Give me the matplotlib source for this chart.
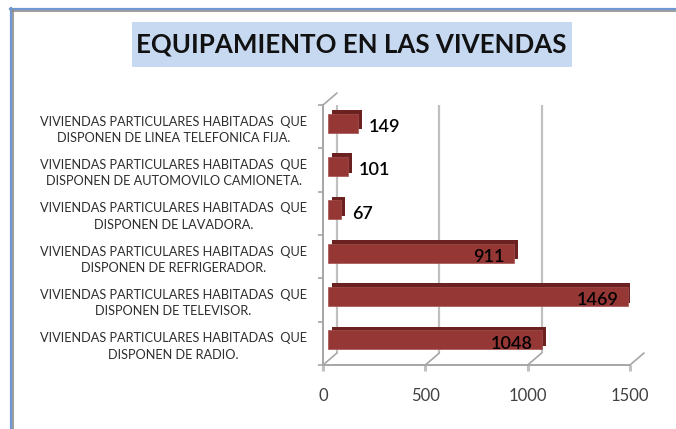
import matplotlib

matplotlib.use("Agg")
import matplotlib.pyplot as plt
import matplotlib.transforms as mtransforms
from matplotlib.lines import Line2D
from matplotlib.patches import Rectangle
import numpy as np

plt.rcParams["font.family"] = ["Lato", "DejaVu Sans"]

TITLE = "EQUIPAMIENTO EN LAS VIVENDAS"
LINE1 = "VIVIENDAS PARTICULARES HABITADAS  QUE"
# top to bottom, as in the picture
items = [
    "DISPONEN DE LINEA TELEFONICA FIJA.",
    "DISPONEN DE AUTOMOVILO CAMIONETA.",
    "DISPONEN DE LAVADORA.",
    "DISPONEN DE REFRIGERADOR.",
    "DISPONEN DE TELEVISOR.",
    "DISPONEN DE RADIO.",
]
values = [149, 101, 67, 911, 1469, 1048]
xticks = [0, 500, 1000, 1500]

W, H, DPI = 676, 429, 100
PX = 72 / DPI  # points per pixel

FRONT = "#953735"
SIDE = "#6a2120"
GRID = "#c0c0c0"
WALL = "#a6a6a6"

fig = plt.figure(figsize=(W / DPI, H / DPI), dpi=DPI)
fig.patch.set_facecolor("white")

# chart frame (top + left edge only, like the cropped screenshot)
fig.add_artist(Line2D([10.5 / W, 10.5 / W], [0, 1 - 8 / H], color="#6f97d3", lw=1.6))
fig.add_artist(Line2D([10 / W, 1], [1 - 8.5 / H, 1 - 8.5 / H], color="#6f97d3", lw=1.6))
fig.add_artist(Line2D([12.5 / W, 12.5 / W], [0, 1 - 10 / H], color="#8c8c8c", lw=1.2))
fig.add_artist(Line2D([12 / W, 1], [1 - 10.5 / H, 1 - 10.5 / H], color="#8c8c8c", lw=1.2))

# title box
fig.add_artist(Rectangle((132 / W, 1 - 67 / H), 440 / W, 45 / H,
                         transform=fig.transFigure, facecolor="#c6d9f1", edgecolor="none"))
fig.text(351 / W, 1 - 45 / H, TITLE, ha="center", va="center",
         fontsize=18.6, fontweight="bold", color="#111111")

ax = fig.add_axes([323 / W, 1 - 365 / H, 307 / W, 260 / H])
ax.set_facecolor("none")
y = np.arange(len(values))
ax.set_xlim(0, 1500)
ax.set_ylim(len(values) - 0.5, -0.5)

# back wall: gridlines pushed back into depth
back = ax.transData + mtransforms.ScaledTranslation(14 / DPI, 12 / DPI, fig.dpi_scale_trans)
ax.vlines(xticks, len(values) - 0.5, -0.5, colors=GRID, lw=1.6, transform=back, zorder=1)
for xv in xticks:
    ax.annotate("", xy=(xv, len(values) - 0.5), xytext=(14 * PX, 12 * PX), textcoords="offset points",
                arrowprops=dict(arrowstyle="-", color=WALL, lw=1.2, shrinkA=0, shrinkB=0), zorder=1)
ax.annotate("", xy=(0, -0.5), xytext=(14 * PX, 12 * PX), textcoords="offset points",
            arrowprops=dict(arrowstyle="-", color=WALL, lw=1.2, shrinkA=0, shrinkB=0), zorder=1)

# bars: dark copy behind gives top + side faces
mid = ax.transData + mtransforms.ScaledTranslation(4.5 / DPI, 3.5 / DPI, fig.dpi_scale_trans)
deep = ax.transData + mtransforms.ScaledTranslation(8.5 / DPI, 7 / DPI, fig.dpi_scale_trans)
ax.barh(y, values, height=0.44, color=SIDE, transform=deep, zorder=2)
ax.barh(y, values, height=0.44, color=FRONT, edgecolor="#a5504e", lw=0.5, transform=mid, zorder=3)

for yi, v in zip(y, values):
    if v < 300:
        ax.annotate(str(v), (v, yi), xytext=(15.5 * PX, -5.5 * PX), textcoords="offset points",
                    ha="left", va="baseline", fontsize=13, fontweight="semibold", color="black", zorder=4)
    else:
        ax.annotate(str(v), (v, yi), xytext=(-5 * PX, -5.5 * PX), textcoords="offset points",
                    ha="right", va="baseline", fontsize=13, fontweight="semibold", color="black", zorder=4)

for side in ["top", "right"]:
    ax.spines[side].set_visible(False)
ax.spines["left"].set_color(WALL)
ax.spines["bottom"].set_color(WALL)
ax.spines["left"].set_linewidth(1.4)
ax.spines["bottom"].set_linewidth(1.4)

ax.set_xticks(xticks)
ax.set_xticklabels([str(t) for t in xticks])
ax.tick_params(axis="x", direction="out", length=6 * PX, width=2.2, color=GRID,
               labelsize=12, labelcolor="#404040", pad=12)

ax.set_yticks(y)
ax.set_yticklabels([LINE1 + "\n" + s for s in items], ha="right", multialignment="center",
                   linespacing=1.45)
ax.set_yticks(np.arange(-0.5, len(values)), minor=True)
ax.tick_params(axis="y", which="major", length=0, pad=16 * PX, labelsize=9.2, labelcolor="#2e2e2e")
ax.tick_params(axis="y", which="minor", direction="out", length=5 * PX, width=1.2, color=WALL)

fig.savefig("out.png", dpi=DPI)
